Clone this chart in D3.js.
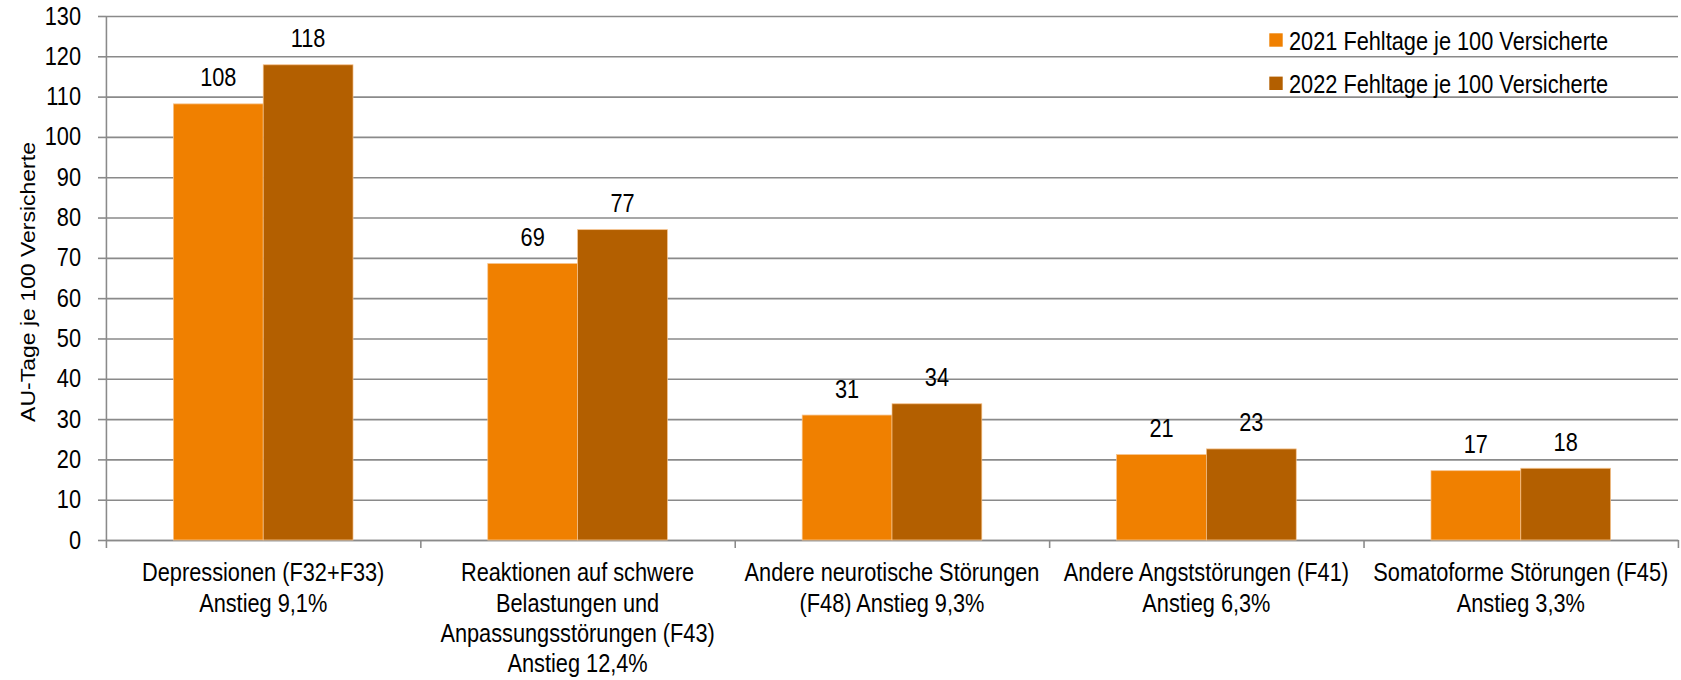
<!DOCTYPE html>
<html>
<head>
<meta charset="utf-8">
<script src="https://cdn.jsdelivr.net/npm/d3@7"></script>
<style>
  body { margin: 0; background: #fff; }
  text { font-family: "Liberation Sans", Arial, sans-serif; fill: #000; }
</style>
</head>
<body>
<div id="chart"></div>
<script>
// data
const categories = [
  ["Depressionen (F32+F33)", "Anstieg 9,1%"],
  ["Reaktionen auf schwere", "Belastungen und", "Anpassungsstörungen (F43)", "Anstieg 12,4%"],
  ["Andere neurotische Störungen", "(F48) Anstieg 9,3%"],
  ["Andere Angststörungen (F41)", "Anstieg 6,3%"],
  ["Somatoforme Störungen (F45)", "Anstieg 3,3%"]
];
const seriesNames = ["2021 Fehltage je 100 Versicherte", "2022 Fehltage je 100 Versicherte"];
const values2021 = [108.2, 68.6, 31.0, 21.2, 17.2];
const values2022 = [117.9, 77.0, 33.8, 22.6, 17.8];
const yTicks = [0, 10, 20, 30, 40, 50, 60, 70, 80, 90, 100, 110, 120, 130];
const colors = ["#F08000", "#B35F00"];

const width = 1681, height = 680;
// the reference is squeezed horizontally, so draw wider and let the viewBox squeeze it
const squeeze = 0.87;
const vw = width / squeeze;
const sx = px => px / squeeze;

const svg = d3.select("#chart").append("svg")
  .attr("width", width)
  .attr("height", height)
  .attr("viewBox", `0 0 ${vw} ${height}`)
  .attr("preserveAspectRatio", "none");

const left = sx(106), right = sx(1678);
const x = d3.scaleBand().domain(d3.range(categories.length)).range([left, right]);
const xInner = d3.scaleBand().domain([0, 1]).range([0, x.bandwidth()]).paddingOuter(0.75);
const y = d3.scaleLinear().domain([0, 130]).range([540, 16]);

const gridColor = "#8a8a8a";

// gridlines
svg.append("g")
  .attr("transform", `translate(${left},0)`)
  .call(d3.axisLeft(y).tickValues(yTicks).tickSize(-(right - left)).tickFormat(""))
  .call(g => g.select(".domain").remove())
  .call(g => g.selectAll("line").attr("stroke", gridColor).attr("stroke-width", 1.6));

// y axis with ticks and labels
svg.append("g")
  .attr("transform", `translate(${left},0)`)
  .call(d3.axisLeft(y).tickValues(yTicks).tickSize(sx(8)).tickSizeOuter(0).tickPadding(sx(17)))
  .call(g => g.select(".domain").attr("stroke", gridColor).attr("stroke-width", 1.8))
  .call(g => g.selectAll("line").attr("stroke", gridColor).attr("stroke-width", 1.6))
  .call(g => g.selectAll("text").attr("font-size", 25).attr("font-family", null).attr("fill", "#000"));

// category boundary ticks on the x axis
const bounds = d3.scaleLinear().domain([0, categories.length]).range([left, right]);
svg.append("g")
  .attr("transform", "translate(0,540)")
  .call(d3.axisBottom(bounds).tickValues(d3.range(categories.length + 1)).tickSize(8).tickSizeOuter(0).tickFormat(""))
  .call(g => g.select(".domain").attr("stroke", gridColor).attr("stroke-width", 1.6))
  .call(g => g.selectAll("line").attr("stroke", gridColor).attr("stroke-width", 1.8));

// bars
const series = [values2021, values2022];
series.forEach((vals, s) => {
  svg.append("g").selectAll("rect")
    .data(vals)
    .join("rect")
    .attr("x", (d, i) => x(i) + xInner(s))
    .attr("y", d => y(d))
    .attr("width", xInner.bandwidth())
    .attr("height", d => y(0) - y(d))
    .attr("fill", colors[s])
    .attr("stroke", "#f7c590")
    .attr("stroke-width", 0.8);

  svg.append("g").selectAll("text")
    .data(vals)
    .join("text")
    .attr("x", (d, i) => x(i) + xInner(s) + xInner.bandwidth() / 2)
    .attr("y", d => y(d) - 17.5)
    .attr("text-anchor", "middle")
    .attr("font-size", 25)
    .text(d => Math.round(d));
});

// category labels
svg.append("g").selectAll("text")
  .data(categories)
  .join("text")
  .attr("x", (d, i) => x(i) + x.bandwidth() / 2)
  .attr("y", 581.5)
  .attr("text-anchor", "middle")
  .attr("font-size", 25)
  .selectAll("tspan")
  .data(d => d)
  .join("tspan")
  .attr("x", function () { return this.parentNode.getAttribute("x"); })
  .attr("dy", (d, i) => i === 0 ? 0 : 30.2)
  .text(d => d);

// y axis title
svg.append("text")
  .attr("transform", `translate(${sx(35.5)},282) rotate(-90)`)
  .attr("text-anchor", "middle")
  .attr("font-size", 23)
  .text("AU-Tage je 100 Versicherte");

// legend
const legend = svg.append("g").selectAll("g")
  .data(seriesNames)
  .join("g")
  .attr("transform", (d, i) => `translate(0,${i * 43.3})`);

legend.append("rect")
  .attr("x", sx(1269.3))
  .attr("y", 33.3)
  .attr("width", sx(13.4))
  .attr("height", 13.4)
  .attr("fill", (d, i) => colors[i]);

legend.append("text")
  .attr("x", sx(1289))
  .attr("y", 50)
  .attr("font-size", 25)
  .text(d => d);
</script>
</body>
</html>
